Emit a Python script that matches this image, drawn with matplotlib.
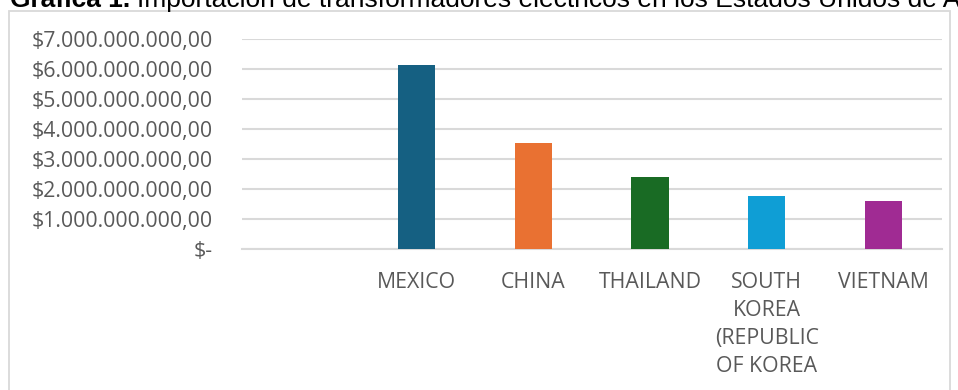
import matplotlib
matplotlib.use("Agg")
import matplotlib.pyplot as plt
from matplotlib.patches import Rectangle

W, H = 958, 390

countries = ["", "MEXICO", "CHINA", "THAILAND",
             "SOUTH\nKOREA\n(REPUBLIC\nOF KOREA", "VIETNAM"]
imports_usd = [0, 6.13e9, 3.55e9, 2.42e9, 1.78e9, 1.62e9]
bar_colors = ["#156082", "#156082", "#E97132", "#196B24", "#0F9ED5", "#A02B93"]
y_ticks = [0, 1e9, 2e9, 3e9, 4e9, 5e9, 6e9, 7e9]

TEXT_GRAY = "#595959"
LINE_GRAY = "#D9D9D9"


def money_label(v):
    if v == 0:
        return "$-"
    s = f"{v:,.2f}"
    return "$" + s.replace(",", "X").replace(".", ",").replace("X", ".")


fig = plt.figure(figsize=(W / 100, H / 100), dpi=100)

# outer chart frame (bottom runs off the image)
frame = Rectangle((8.5 / W, -0.05), (950 - 8.5) / W, 1.05 - 11.5 / H,
                  transform=fig.transFigure, fill=False,
                  edgecolor=LINE_GRAY, linewidth=1.3)
fig.patches.append(frame)

# title, cut at the top edge like in the source picture
fig.text(10 / W, 1 - 7 / H, "Gráfica 1.", fontsize=19, fontweight="bold",
         family="Liberation Sans", va="baseline", ha="left", color="black")
fig.text(137 / W, 1 - 7 / H,
         "Importación de transformadores eléctricos en los Estados Unidos de América",
         fontsize=19, family="Liberation Sans", va="baseline", ha="left", color="black")

left, right = 241.7 / W, 941.7 / W
bottom, top = 1 - 249.3 / H, 1 - 39.3 / H
ax = fig.add_axes([left, bottom, right - left, top - bottom])

x = list(range(len(countries)))
ax.bar(x, imports_usd, width=0.32, color=bar_colors, zorder=3)

ax.set_xlim(-0.5, len(countries) - 0.5)
ax.set_ylim(0, 7e9)
ax.set_yticks(y_ticks)
ax.set_yticklabels([money_label(v) for v in y_ticks])
ax.set_xticks(x)
ax.set_xticklabels(countries, linespacing=1.45)

ax.grid(axis="y", color=LINE_GRAY, linewidth=1.5, zorder=0)
ax.set_axisbelow(True)
for side in ["left", "right", "top"]:
    ax.spines[side].set_visible(False)
ax.spines["bottom"].set_color(LINE_GRAY)
ax.spines["bottom"].set_linewidth(1.5)

ax.tick_params(axis="both", length=0, colors=TEXT_GRAY)
ax.tick_params(axis="y", pad=21)
ax.tick_params(axis="x", pad=16)
for lab in ax.get_yticklabels() + ax.get_xticklabels():
    lab.set_family("Open Sans")
    lab.set_fontsize(15.3)
    lab.set_color(TEXT_GRAY)

fig.savefig("out.png", dpi=100)
